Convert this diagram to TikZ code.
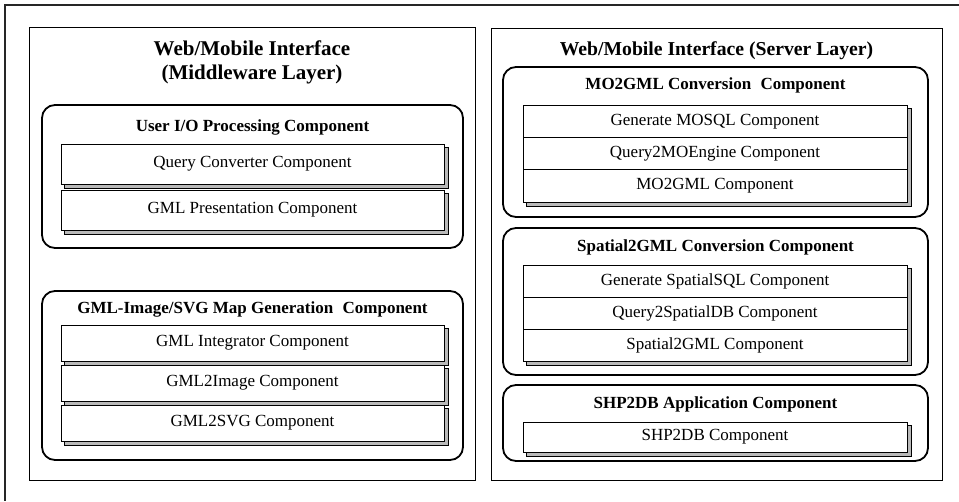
\documentclass[tikz,border=0pt]{standalone}
\usepackage{fontspec}
\setmainfont{Liberation Serif}
\usetikzlibrary{backgrounds}
\begin{document}
\begin{tikzpicture}[x=1pt,y=-1pt,
  frame/.style={draw=black!85, line width=1.1pt},
  panel/.style={draw=black, line width=0.9pt, inner sep=0pt},
  group/.style={draw=black, line width=1.8pt, rounded corners=13pt, inner sep=0pt},
  cell/.style={draw=black, line width=0.8pt, fill=white, inner sep=0pt,
               font=\fontsize{17}{19}\selectfont},
  lcell/.style={cell, minimum width=383pt, minimum height=#1},
  rcell/.style={cell, minimum width=384pt, minimum height=#1},
  paneltitle/.style={font=\fontsize{#1}{24}\selectfont\bfseries, align=center, inner sep=0pt},
  grouptitle/.style={font=\fontsize{17}{19}\selectfont\bfseries, inner sep=0pt},
  shade/.style={fill=gray!55, draw=black, line width=0.7pt}
]
\useasboundingbox (0,0) rectangle (959,501);

% cropped outer frame: top and left edges only
\coordinate (ftl) at (5,5);
\coordinate (ftr) at (959,5);
\coordinate (fbl) at (5,501);
\draw[frame] (ftr) -- (ftl) -- (fbl);

% ---------- middleware layer ----------
\node[panel, minimum width=446pt, minimum height=453pt] (lp) at (252,253.5) {};
\node[paneltitle=21] (lt) at (252,62) {Web/Mobile Interface\\(Middleware Layer)};

\node[group, minimum width=421pt, minimum height=143pt] (uio) at (252.5,176.5) {};
\node[grouptitle] (uiot) at (252.5,127) {User I/O Processing Component};
\node[lcell=40pt] (qc) at (252.5,164) {Query Converter Component};
\node[lcell=40pt] (gp) at (252.5,210) {GML Presentation Component};

\node[group, minimum width=421pt, minimum height=169pt] (gig) at (252.5,375.5) {};
\node[grouptitle] (gigt) at (252.5,309) {GML-Image/SVG Map Generation\hspace{0.3em} Component};
\node[lcell=36pt] (gi) at (252.5,343) {GML Integrator Component};
\node[lcell=36pt] (g2i) at (252.5,383) {GML2Image Component};
\node[lcell=36pt] (g2s) at (252.5,423) {GML2SVG Component};

% ---------- server layer ----------
\node[panel, minimum width=451pt, minimum height=452pt] (rp) at (716.5,254) {};
\node[paneltitle=19.7] (rt) at (716.5,51) {Web/Mobile Interface (Server Layer)};

\node[group, minimum width=425pt, minimum height=150pt] (mo) at (715.5,142) {};
\node[grouptitle] (mot) at (715.5,85) {MO2GML Conversion\hspace{0.3em} Component};
\node[rcell=32.33pt] (ms) at (715,121.2) {Generate MOSQL Component};
\node[rcell=32.33pt] (me) at (715,153.5) {Query2MOEngine Component};
\node[rcell=32.33pt] (mg) at (715,185.8) {MO2GML Component};

\node[group, minimum width=425pt, minimum height=147pt] (sp) at (715.5,301.5) {};
\node[grouptitle] (spt) at (715.5,247) {Spatial2GML Conversion Component};
\node[rcell=32pt] (ss) at (715,281) {Generate SpatialSQL Component};
\node[rcell=32pt] (sq) at (715,313) {Query2SpatialDB Component};
\node[rcell=32pt] (sg) at (715,345) {Spatial2GML Component};

\node[group, minimum width=425pt, minimum height=76pt] (shp) at (715.5,423) {};
\node[grouptitle] (shpt) at (715.5,404) {SHP2DB Application Component};
\node[rcell=30pt] (sc) at (715,437) {SHP2DB Component};

% shadows behind the component boxes
\begin{scope}[on background layer]
  \foreach \a/\b in {qc/qc, gp/gp, gi/gi, g2i/g2i, g2s/g2s, ms/mg, ss/sg, sc/sc}{
    \draw[shade] ([xshift=3.5pt,yshift=-3.5pt]\a.north west)
      rectangle ([xshift=3.5pt,yshift=-3.5pt]\b.south east);
  }
\end{scope}
\end{tikzpicture}
\end{document}
